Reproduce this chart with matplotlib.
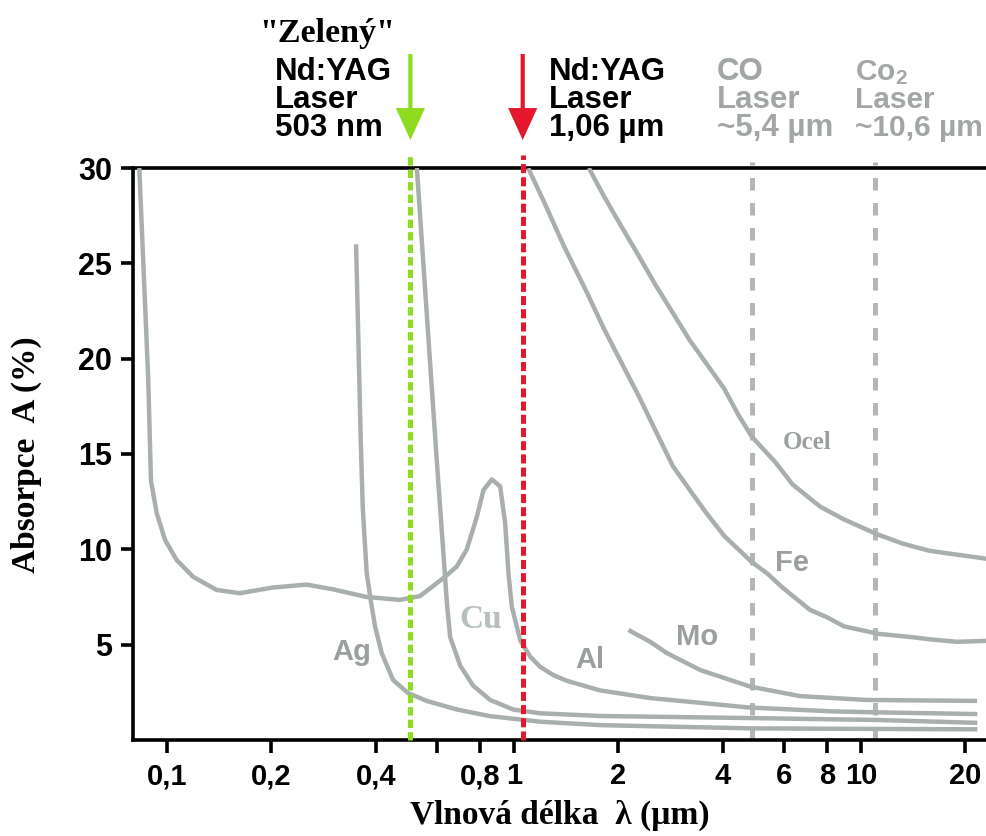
import matplotlib
matplotlib.use('Agg')
import matplotlib.pyplot as plt
from matplotlib import font_manager

# hodnoty: vlnová délka (µm), absorpce (%)
al_x = [0.0832, 0.0883, 0.0899, 0.0934, 0.0987, 0.1066, 0.1189, 0.139, 0.1623, 0.2025,
        0.2528, 0.3016, 0.3764, 0.4697, 0.5364, 0.633, 0.6843, 0.7314, 0.7818, 0.8168,
        0.8636, 0.9125, 0.9432, 0.9643, 0.9861, 1.042, 1.114, 1.19, 1.30, 1.424,
        1.773, 2.47, 3.443, 4.80, 8.33, 11.15, 21.66]
al_y = [30, 18.9, 13.6, 11.9, 10.5, 9.44, 8.56, 7.87, 7.7, 8.0,
        8.15, 7.9, 7.5, 7.35, 7.55, 8.56, 9.1, 10.0, 11.7, 13.1,
        13.67, 13.3, 11.4, 8.75, 7.0, 5.24, 4.37, 3.84, 3.4, 3.1,
        2.6, 2.2, 1.95, 1.7, 1.5, 1.45, 1.36]

ag_x = [0.3508, 0.3618, 0.3666, 0.3764, 0.3868, 0.398, 0.416, 0.4483, 0.4953, 0.5608,
        0.6843, 0.8539, 1.19, 1.773, 4.80, 11.15, 21.66]
ag_y = [26, 15.7, 12.2, 8.75, 7.3, 5.94, 4.55, 3.15, 2.46, 2.05,
        1.6, 1.25, 0.96, 0.78, 0.61, 0.58, 0.56]

cu_x = [0.525, 0.599, 0.625, 0.642, 0.655, 0.700, 0.763, 0.854, 0.995, 1.19,
        1.773, 4.80, 11.15, 21.66]
cu_y = [30, 14.7, 10, 7.0, 5.4, 3.9, 2.85, 2.1, 1.6, 1.4,
        1.26, 1.15, 1.05, 0.9]

mo_x = [2.139, 2.47, 2.76, 3.443, 4.80, 6.69, 10.41, 21.62]
mo_y = [5.77, 5.15, 4.56, 3.67, 2.8, 2.3, 2.1, 2.05]

fe_x = [1.099, 1.23, 1.387, 1.62, 1.822, 2.04, 2.288, 2.563, 2.871, 3.216,
        3.601, 4.04, 4.843, 5.4, 5.94, 7.13, 8.0, 8.94, 11.23, 14.1,
        15.8, 18.94, 23.14]
fe_y = [30, 28.1, 25.98, 23.5, 21.53, 19.8, 18.05, 16.2, 14.37, 13.1,
        11.86, 10.7, 9.34, 8.7, 8.0, 6.83, 6.43, 5.96, 5.57, 5.39,
        5.28, 5.15, 5.2]

ocel_x = [1.644, 1.82, 2.04, 2.288, 2.563, 2.871, 3.216, 3.601, 4.037, 4.42,
          4.843, 5.675, 6.36, 7.63, 8.94, 11.11, 13.2, 15.8, 23.14]
ocel_y = [30, 28.5, 26.94, 25.4, 23.85, 22.4, 20.95, 19.7, 18.43, 17.1,
          15.92, 14.56, 13.4, 12.24, 11.57, 10.8, 10.3, 9.92, 9.5]

# lasery
green_x = 0.503
red_x = 1.06
co_x = 4.85
co2_x = 11.0

x_ticks = [0.1, 0.2, 0.4, 0.6, 0.8, 1, 2, 4, 6, 8, 10, 20]
x_labels = ['0,1', '0,2', '0,4', '', '0,8', '1', '2', '4', '6', '8', '10', '20']
y_ticks = [5, 10, 15, 20, 25, 30]

plt.rcParams['lines.scale_dashes'] = False
plt.rcParams['mathtext.default'] = 'regular'
names = {f.name for f in font_manager.fontManager.ttflist}
narrow = 'Liberation Sans Narrow' if 'Liberation Sans Narrow' in names else 'Liberation Sans'
SANS = 'Liberation Sans'
SERIF = 'Liberation Serif'

CURVE = '#a9afae'
LABEL = '#9b9f9f'
GRAYTXT = '#a2a6a6'
GREEN = '#8fdb1f'
RED = '#e5172b'

W, H = 987, 836
fig = plt.figure(figsize=(W / 100, H / 100), dpi=100)
ax = fig.add_axes([133 / W, 1 - 740 / H, 1 - 133 / W, (740 - 168) / H])

for xs, ys in [(al_x, al_y), (ag_x, ag_y), (cu_x, cu_y), (mo_x, mo_y), (fe_x, fe_y), (ocel_x, ocel_y)]:
    ax.plot(xs, ys, color=CURVE, lw=3.2, solid_capstyle='butt', solid_joinstyle='round', zorder=3)

ax.set_xscale('log')
ax.set_xlim(0.0798, 23.1)
ax.set_ylim(0, 30)

# svislé čáry laserů
ax.plot([green_x, green_x], [0, 30.7], color=GREEN, lw=3.6, dashes=(6, 3), clip_on=False, zorder=4)
ax.plot([red_x, red_x], [0, 30.7], color=RED, lw=3.6, dashes=(6.5, 3), clip_on=False, zorder=4)
for xv in [co_x, co2_x]:
    ax.plot([xv, xv], [0, 30.3], color='#b3b7b7', lw=3.6, dashes=(9, 9), clip_on=False, zorder=2)

# šipky
for xv, c in [(green_x, GREEN), (red_x, RED)]:
    ax.annotate('', xy=(xv, (740 - 140) / 572), xytext=(xv, (740 - 54) / 572),
                xycoords=ax.get_xaxis_transform(), textcoords=ax.get_xaxis_transform(),
                arrowprops=dict(facecolor=c, edgecolor='none', width=3, headwidth=21, headlength=23, shrink=0))

ax.spines['right'].set_visible(False)
for s in ['left', 'top', 'bottom']:
    ax.spines[s].set_linewidth(2.6)
ax.set_xticks(x_ticks)
ax.set_xticklabels(x_labels, fontfamily=narrow, fontweight='bold', fontsize=21)
ax.minorticks_off()
ax.set_yticks(y_ticks)
ax.set_yticklabels([str(v) for v in y_ticks], fontfamily=SANS, fontweight='bold', fontsize=22)
ax.tick_params(axis='x', length=9, width=2.6, pad=7)
ax.tick_params(axis='y', length=9, width=2.6, pad=6)

ax.set_xlabel('Vlnová délka  λ (µm)', fontfamily=SERIF, fontweight='bold', fontsize=24)
ax.xaxis.set_label_coords(0.5, (740 - 800) / 572)
ax.set_ylabel('Absorpce  A (%)', fontfamily=SERIF, fontweight='bold', fontsize=24)
ax.yaxis.set_label_coords((42 - 133) / 854, 0.498)

# popisky křivek
ax.text(0.3415, 4.6, 'Ag', color=LABEL, fontfamily=SANS, fontweight='bold', fontsize=21, ha='center', va='center')
ax.text(0.80, 6.3, 'Cu', color='#b8bfbf', fontfamily=SERIF, fontweight='bold', fontsize=24, ha='center', va='center')
ax.text(1.658, 4.2, 'Al', color=LABEL, fontfamily=SANS, fontweight='bold', fontsize=21, ha='center', va='center')
ax.text(3.376, 5.4, 'Mo', color=LABEL, fontfamily=SANS, fontweight='bold', fontsize=21, ha='center', va='center')
ax.text(6.34, 9.3, 'Fe', color=LABEL, fontfamily=SANS, fontweight='bold', fontsize=21, ha='center', va='center')
ax.text(7.0, 15.6, 'Ocel', color=LABEL, fontfamily=SERIF, fontweight='bold', fontsize=18, ha='center', va='center')

# texty nad grafem (pozice v pixelech obrázku)
def ftext(px, py, s, **kw):
    fig.text(px / W, 1 - py / H, s, va='baseline', **kw)

ftext(327, 42, '"Zelený"', ha='center', fontfamily=SERIF, fontweight='bold', fontsize=24.5)
blocks = [
    (275, ['Nd:YAG', 'Laser', '503 nm'], 'black', 22.5),
    (549, ['Nd:YAG', 'Laser', '1,06 µm'], 'black', 22.5),
    (717, ['CO', 'Laser', '~5,4 µm'], GRAYTXT, 22.5),
    (855, ['Co$_2$', 'Laser', '~10,6 µm'], GRAYTXT, 21.5),
]
for px, lines, c, fs in blocks:
    for line, py in zip(lines, [80, 107.5, 136]):
        ftext(px, py, line, ha='left', color=c, fontfamily=SANS, fontweight='bold', fontsize=fs)

fig.savefig('out.png', dpi=100)
